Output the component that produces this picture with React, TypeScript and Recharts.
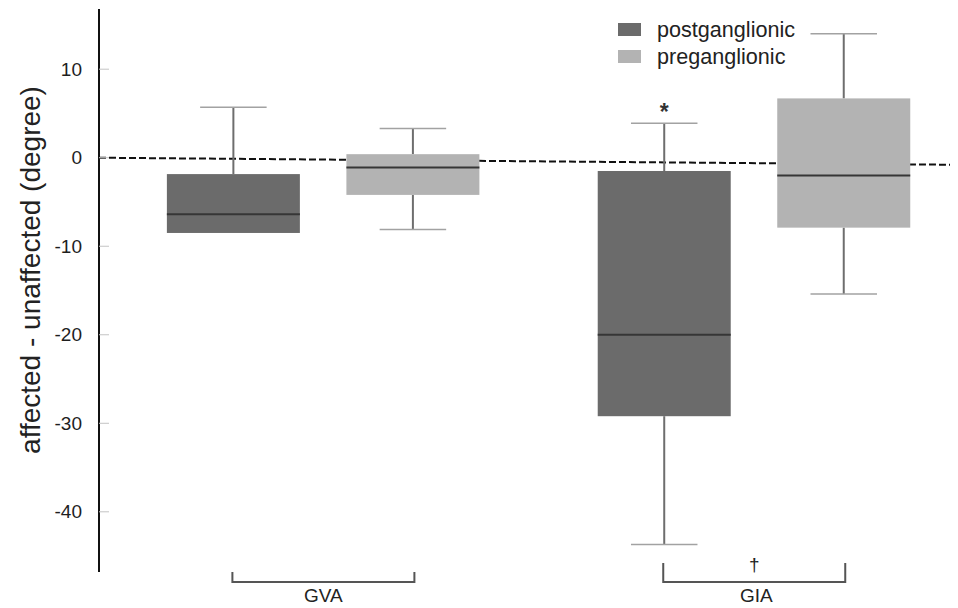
import { ComposedChart, Bar, XAxis, YAxis, ReferenceLine, Legend } from "recharts";

// groups along the x axis and where each group sits
const groups = ["GVA", "GIA"];
const groupCenters = [1.5, 3.9];
const xDomain = [0.25, 5.035];

// postganglionic box plot stats (degree)
const postMin = [-8.5, -43.7];
const postQ1 = [-8.5, -29.2];
const postMedian = [-6.4, -20.0];
const postQ3 = [-1.85, -1.5];
const postMax = [5.7, 3.9];
const postMarks = ["", "*"];

// preganglionic box plot stats (degree)
const preMin = [-8.1, -15.4];
const preQ1 = [-4.2, -7.9];
const preMedian = [-1.1, -2.0];
const preQ3 = [0.4, 6.7];
const preMax = [3.3, 14.0];

const groupMarks = ["", "†"];
const yTicks = [10, 0, -10, -20, -30, -40];
const yDomain = [-46.8, 16.8];
// dashed zero line drifts slightly downward in the source
const baselineStart = 0;
const baselineEnd = -0.8;

const FONT = '"Liberation Sans", Arial, sans-serif';
const DARK = "#6b6b6b";
const LIGHT = "#b3b3b3";

const seriesInfo = [
  { key: "post", name: "postganglionic", color: DARK },
  { key: "pre", name: "preganglionic", color: LIGHT },
];

const rows = groups.flatMap((g, i) => [
  {
    x: groupCenters[i] - 0.5,
    series: "post",
    min: postMin[i],
    q1: postQ1[i],
    median: postMedian[i],
    q3: postQ3[i],
    max: postMax[i],
    mark: postMarks[i],
  },
  {
    x: groupCenters[i] + 0.5,
    series: "pre",
    min: preMin[i],
    q1: preQ1[i],
    median: preMedian[i],
    q3: preQ3[i],
    max: preMax[i],
    mark: "",
  },
]);

const BoxShape = (props: any) => {
  const { x, y, width, height, payload } = props;
  const top = Math.min(y, y + height);
  const h = Math.abs(height);
  const k = h / (payload.q3 - payload.q1);
  const yOf = (v: number) => top + (payload.q3 - v) * k;
  const cx = x + width / 2;
  const capHalf = width / 4;
  const fill = payload.series === "post" ? DARK : LIGHT;
  const yMax = yOf(payload.max);
  const yMin = yOf(payload.min);
  return (
    <g>
      <line x1={cx} x2={cx} y1={yMax} y2={top} stroke="#6e6e6e" strokeWidth={2} />
      <line x1={cx} x2={cx} y1={top + h} y2={yMin} stroke="#6e6e6e" strokeWidth={2} />
      <line x1={cx - capHalf} x2={cx + capHalf} y1={yMax} y2={yMax} stroke="#a2a2a2" strokeWidth={1.5} />
      {payload.min < payload.q1 && (
        <line x1={cx - capHalf} x2={cx + capHalf} y1={yMin} y2={yMin} stroke="#a2a2a2" strokeWidth={1.5} />
      )}
      <rect x={x} y={top} width={width} height={h} fill={fill} />
      <line x1={x} x2={x + width} y1={yOf(payload.median)} y2={yOf(payload.median)} stroke="#363636" strokeWidth={2} />
      {payload.mark && (
        <text x={cx} y={yMax - 3} textAnchor="middle" fontSize={23} fontWeight="bold" fontFamily={FONT} fill="#333">
          {payload.mark}
        </text>
      )}
    </g>
  );
};

const YTick = (props: any) => {
  const { x, y, payload } = props;
  return (
    <g>
      <line x1={x} x2={x + 10} y1={y} y2={y} stroke="#c4c4c4" strokeWidth={1} />
      <text x={x - 17} y={y} dy="0.35em" textAnchor="end" fontSize={19} fontFamily={FONT} fill="#1e1e1e">
        {payload.value}
      </text>
    </g>
  );
};

const GroupTick = (props: any) => {
  const { x, y, payload } = props;
  const i = groupCenters.indexOf(payload.value);
  const half = 91;
  const rise = i === 1 ? 9 : 0;
  return (
    <g>
      <path
        d={`M${x - half},${y - rise} V${y + 10} H${x + half} V${y - rise}`}
        fill="none"
        stroke="#555"
        strokeWidth={2}
      />
      {groupMarks[i] && (
        <text x={x} y={y - 1} textAnchor="middle" fontSize={19} fontFamily={FONT} fill="#222">
          {groupMarks[i]}
        </text>
      )}
      <text x={x + (i === 1 ? 2 : 0)} y={y + 23} dy="0.35em" textAnchor="middle" fontSize={19} fontFamily={FONT} fill="#222">
        {groups[i]}
      </text>
    </g>
  );
};

const LegendBox = () => (
  <div style={{ fontFamily: FONT }}>
    {seriesInfo.map((s) => (
      <div key={s.key} style={{ display: "flex", alignItems: "center", height: 27 }}>
        <span style={{ display: "inline-block", width: 23, height: 13, background: s.color, marginRight: 16 }} />
        <span style={{ fontSize: 21.6, lineHeight: "27px", color: "#222" }}>{s.name}</span>
      </div>
    ))}
  </div>
);

const YLabel = () => (
  <text
    x={22}
    y={262}
    transform="rotate(-90 22 262)"
    textAnchor="middle"
    dominantBaseline="central"
    fontSize={28}
    fontFamily={FONT}
    fill="#222"
  >
    affected - unaffected (degree)
  </text>
);

export default function App() {
  return (
    <ComposedChart width={950} height={600} data={rows} margin={{ top: 1, right: 0, bottom: 0, left: 0 }}>
      <XAxis
        type="number"
        dataKey="x"
        domain={xDomain}
        allowDataOverflow
        ticks={groupCenters}
        interval={0}
        axisLine={false}
        tickLine={false}
        tickSize={0}
        tickMargin={0}
        height={36}
        tick={<GroupTick />}
      />
      <YAxis
        type="number"
        domain={yDomain}
        allowDataOverflow
        ticks={yTicks}
        interval={0}
        width={91}
        tickSize={0}
        tickMargin={0}
        tickLine={false}
        axisLine={{ stroke: "#111", strokeWidth: 2 }}
        tick={<YTick />}
        label={{ content: <YLabel /> }}
      />
      <ReferenceLine
        segment={[
          { x: xDomain[0], y: baselineStart },
          { x: xDomain[1], y: baselineEnd },
        ]}
        stroke="#111"
        strokeWidth={2}
        strokeDasharray="7 3"
        zIndex={0}
      />
      <Bar
        dataKey={(d: any) => [d.q1, d.q3]}
        barSize={133}
        shape={<BoxShape />}
        isAnimationActive={false}
      />
      <Legend
        layout="vertical"
        verticalAlign="middle"
        align="center"
        content={<LegendBox />}
        wrapperStyle={{ top: 8, left: 610, width: "auto" }}
      />
    </ComposedChart>
  );
}
